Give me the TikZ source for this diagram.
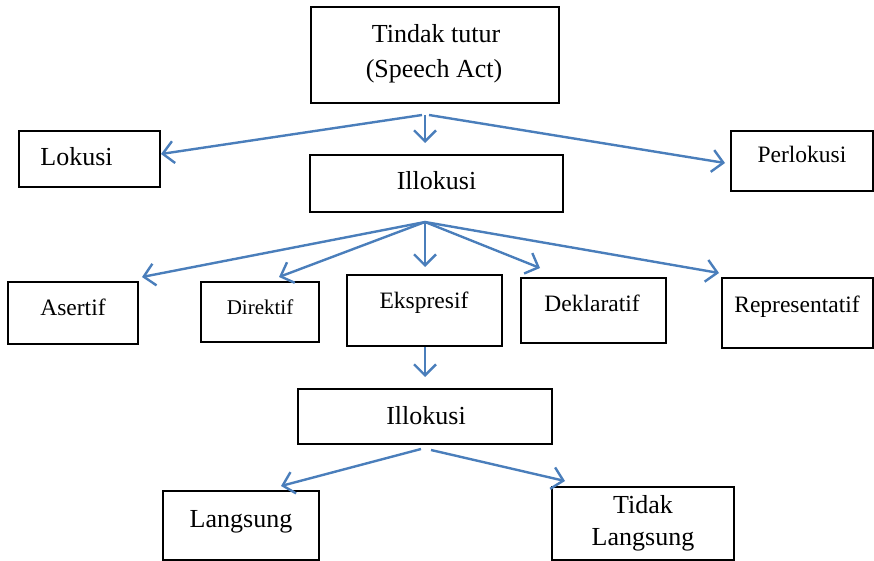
\documentclass[tikz,border=0pt]{standalone}
\usepackage{fontspec}
\setmainfont{Liberation Serif}
\usetikzlibrary{arrows.meta}
\definecolor{arrc}{RGB}{74,126,187}
\begin{document}
\begin{tikzpicture}[x=1pt,y=-1pt,
  box/.style={draw=black, line width=1.6pt, inner sep=0pt, rectangle},
  big/.style={inner sep=0pt, anchor=base, font=\fontsize{26}{30}\selectfont},
  mid/.style={inner sep=0pt, anchor=base, font=\fontsize{23.5}{28}\selectfont},
  small/.style={inner sep=0pt, anchor=base, font=\fontsize{21}{25}\selectfont},
  arr/.style={draw=arrc, line width=2.4pt, -{Straight Barb[length=11pt,width=22pt]}}]
\useasboundingbox (0,0) rectangle (874,561);
% boxes
\node[box, minimum width=248pt, minimum height=96pt] (top) at (435,55) {};
\node[box, minimum width=141pt, minimum height=56pt] (lok) at (89.5,159) {};
\node[box, minimum width=253pt, minimum height=57pt] (ill) at (436.5,183.5) {};
\node[box, minimum width=142pt, minimum height=60pt] (per) at (802,161) {};
\node[box, minimum width=130pt, minimum height=62pt] (ase) at (73,313) {};
\node[box, minimum width=118pt, minimum height=60pt] (dir) at (260,312) {};
\node[box, minimum width=155pt, minimum height=71pt] (eks) at (424.5,310.5) {};
\node[box, minimum width=145pt, minimum height=65pt] (dek) at (593.5,310.5) {};
\node[box, minimum width=151pt, minimum height=70pt] (rep) at (797.5,313) {};
\node[box, minimum width=254pt, minimum height=55pt] (ill2) at (425,416.5) {};
\node[box, minimum width=156pt, minimum height=69pt] (lan) at (241,525.5) {};
\node[box, minimum width=182pt, minimum height=73pt] (tid) at (643,523.5) {};
% texts
\node[big] (t1) at (436,43) {Tindak tutur};
\node[big] (t2) at (434,78) {(Speech Act)};
\node[big] (tlok) at (76.5,166) {Lokusi};
\node[big] (till) at (436.5,190) {Illokusi};
\node[mid] (tper) at (802,163) {Perlokusi};
\node[mid] (tase) at (73,315) {Asertif};
\node[small] (tdir) at (260,314) {Direktif};
\node[mid] (teks) at (424,308) {Ekspresif};
\node[mid] (tdek) at (592,311) {Deklaratif};
\node[mid] (trep) at (797,312) {Representatif};
\node[big] (till2) at (426,424) {Illokusi};
\node[big] (tlan) at (241,527) {Langsung};
\node[big] (ttid1) at (643,513) {Tidak};
\node[big] (ttid2) at (643,545) {Langsung};
% connector coordinates
\coordinate (s1a) at (422,115);
\coordinate (s1b) at (425,115);
\coordinate (s1c) at (429,115);
\coordinate (e1a) at (161,154);
\coordinate (e1b) at (425,143);
\coordinate (e1c) at (725,163);
\coordinate (s2) at (425,222);
\coordinate (e2a) at (142,277);
\coordinate (e2b) at (279,277);
\coordinate (e2c) at (425,267);
\coordinate (e2d) at (540,268);
\coordinate (e2e) at (719,273);
\coordinate (s3) at (425,347);
\coordinate (e3) at (425,377);
\coordinate (s4a) at (421,449);
\coordinate (s4b) at (431,450);
\coordinate (e4a) at (281,486);
\coordinate (e4b) at (565,481);
% arrows
\draw[arr] (s1a) -- (e1a);
\draw[arr] (s1b) -- (e1b);
\draw[arr] (s1c) -- (e1c);
\draw[arr] (s2) -- (e2a);
\draw[arr] (s2) -- (e2b);
\draw[arr] (s2) -- (e2c);
\draw[arr] (s2) -- (e2d);
\draw[arr] (s2) -- (e2e);
\draw[arr] (s3) -- (e3);
\draw[arr] (s4a) -- (e4a);
\draw[arr] (s4b) -- (e4b);
\end{tikzpicture}
\end{document}
